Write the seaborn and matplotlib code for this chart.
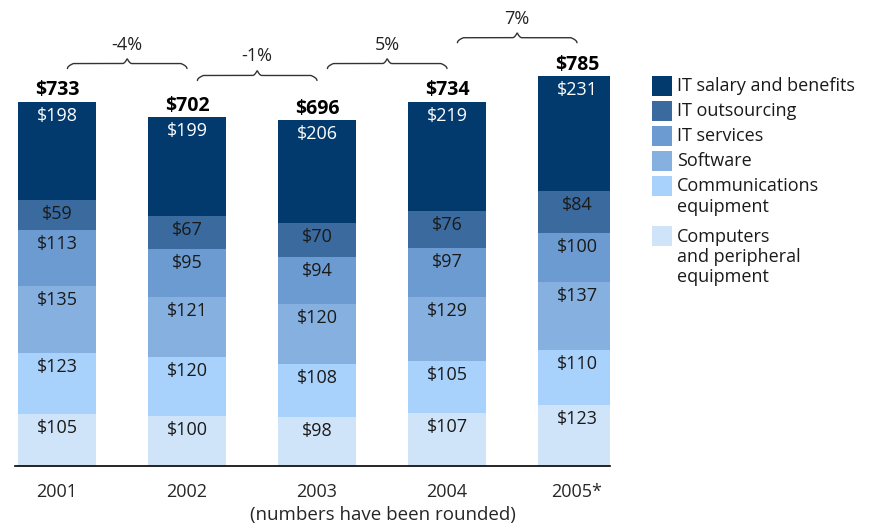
import numpy as np
import pandas as pd
import matplotlib
matplotlib.use("Agg")
import matplotlib.pyplot as plt
from matplotlib.patches import Rectangle
import seaborn as sns

years = ["2001", "2002", "2003", "2004", "2005*"]
# bottom to top
categories = ["Computers\nand peripheral\nequipment", "Communications\nequipment",
              "Software", "IT services", "IT outsourcing", "IT salary and benefits"]
computers = [105, 100, 98, 107, 123]
communications = [123, 120, 108, 105, 110]
software = [135, 121, 120, 129, 137]
it_services = [113, 95, 94, 97, 100]
outsourcing = [59, 67, 70, 76, 84]
salary = [198, 199, 206, 219, 231]
totals = [733, 702, 696, 734, 785]
changes = ["-4%", "-1%", "5%", "7%"]

colors = ["#d0e4f9", "#a8d1fb", "#85b0e0", "#6b9bd0", "#3a6a9e", "#033a6e"]
brace_levels = [800, 776, 800, 852]

layers = [computers, communications, software, it_services, outsourcing, salary]
cum = np.cumsum(np.array(layers), axis=0)

sns.set_style("white")
plt.rcParams["font.family"] = ["Open Sans", "DejaVu Sans"]

W, H = 874, 525
fig = plt.figure(figsize=(W / 100, H / 100), dpi=100)
ax = fig.add_axes([15 / W, 1 - 466 / H, 595 / W, 466 / H])

# draw cumulative bars from the top layer down so lower layers cover them
for k in range(len(layers) - 1, -1, -1):
    df = pd.DataFrame({"year": years, "value": cum[k]})
    sns.barplot(data=df, x="year", y="value", color=colors[k], width=0.6,
                saturation=1, ax=ax, linewidth=0)

px = 466 / 938  # pixels per unit
off = 14 / px
for k in range(len(layers)):
    tc = "white" if k == len(layers) - 1 else "#1a1a1a"
    for i in range(len(years)):
        ax.text(i, cum[k][i] - off, f"${layers[k][i]}", ha="center", va="center",
                fontsize=13, color=tc)

for i, t in enumerate(totals):
    ax.text(i, t + 3, f"${t}", ha="center", va="bottom", fontsize=14,
            fontweight="bold", color="black")


# curly braces with percent change
def brace(x0, x1, y, h=10 / px):
    xm = (x0 + x1) / 2
    xs = np.linspace(x0, x1, 300)
    t = np.abs(xs - xm) / (xm - x0)
    ys = y + h * 0.5 * (np.minimum(np.ones_like(t), (1 - t) / 0.1) ** 0.5)
    ys = np.where(t < 0.08, y + h * 0.5 + h * 0.5 * (1 - t / 0.08) ** 2, ys)
    ax.plot(xs, ys, color="#333333", lw=1, clip_on=False)
    return xm, y + h


for i, lab in enumerate(changes):
    xm, ytop = brace(i + 0.08, i + 1.0, brace_levels[i])
    ax.text(xm, ytop + 5 / px, lab, ha="center", va="bottom", fontsize=13,
            color="#222222")

ax.set_xlim(-0.323, 4.254)
ax.set_ylim(0, 938)
ax.set_xlabel("")
ax.set_ylabel("")
ax.set_yticks([])
ax.tick_params(axis="x", length=0, labelsize=13, pad=12)
for s in ["top", "right", "left"]:
    ax.spines[s].set_visible(False)
ax.spines["bottom"].set_color("black")
ax.spines["bottom"].set_linewidth(1.2)

fig.text(383 / W, 1 - 515 / H, "(numbers have been rounded)", ha="center",
         va="center", fontsize=13.5)

# legend, built by hand so multi-line labels align with their swatch
y_top = 76
line_h = 20.5
for k in range(len(layers) - 1, -1, -1):
    lab = categories[k]
    fig.patches.append(Rectangle((652 / W, 1 - (y_top + 20) / H), 20 / W, 20 / H,
                                 transform=fig.transFigure, facecolor=colors[k],
                                 edgecolor="none"))
    fig.text(677 / W, 1 - (y_top + 10) / H, lab.split("\n")[0], ha="left",
             va="center", fontsize=13, color="#1a1a1a")
    for j, extra in enumerate(lab.split("\n")[1:]):
        fig.text(677 / W, 1 - (y_top + 10 + line_h * (j + 1)) / H, extra,
                 ha="left", va="center", fontsize=13, color="#1a1a1a")
    n = lab.count("\n") + 1
    y_top += 25 + (n - 1) * line_h + (5 if n > 1 else 0)

fig.savefig("out.png", dpi=100)
